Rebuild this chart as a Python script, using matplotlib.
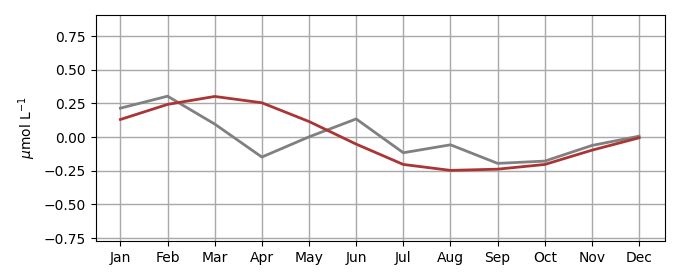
import numpy as np
import matplotlib
matplotlib.use('Agg')
import matplotlib.pyplot as plt

months = ['Jan', 'Feb', 'Mar', 'Apr', 'May', 'Jun', 'Jul', 'Aug', 'Sep', 'Oct', 'Nov', 'Dec']
grey_series = [0.215, 0.304, 0.097, -0.148, 0.002, 0.135, -0.116, -0.057, -0.195, -0.178, -0.062, 0.007]
red_series = [0.131, 0.243, 0.302, 0.255, 0.116, -0.052, -0.203, -0.247, -0.238, -0.203, -0.097, -0.005]

fig = plt.figure(figsize=(6.8, 2.8), dpi=100)
ax = fig.add_axes([0.141, 0.139, 0.837, 0.807])
x = np.arange(len(months))
ax.plot(x, grey_series, color='grey', lw=2)
ax.plot(x, red_series, color='#ab3535', lw=2)
ax.set_xticks(x)
ax.set_xticklabels(months)
ax.set_xlim(-0.52, 11.55)
ax.set_yticks(np.arange(-0.75, 0.76, 0.25))
ax.set_ylim(-0.772, 0.906)
ax.set_ylabel(r'$\mu$mol L$^{-1}$')
ax.grid(color='#a8a8a8', lw=1)
ax.set_axisbelow(True)
fig.savefig('out.png', dpi=100)
